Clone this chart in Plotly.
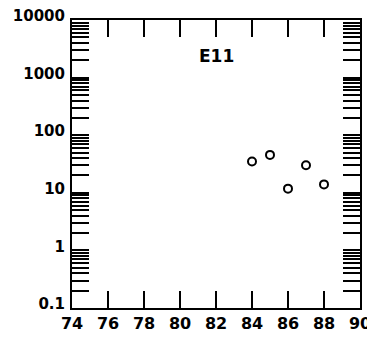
import plotly.graph_objects as go

# Data
years = [84, 85, 86, 87, 88]
values = [35.0, 45.5, 11.8, 30.0, 14.0]
panel_label = "E11"

x_ticks = [74, 76, 78, 80, 82, 84, 86, 88, 90]
x_tick_text = ["74", "76", "78", "80", "82", "84", "86", "88", "90"]
decades = [0.1, 1, 10, 100, 1000, 10000]
decade_text = ["0.1", "1", "10", "100", "1000", "10000"]

# log-axis tick positions (1..9 per decade), labels only on decades
y_tickvals = []
y_ticktext = []
for d, t in zip(decades[:-1], decade_text[:-1]):
    for k in range(1, 10):
        y_tickvals.append(k * d)
        y_ticktext.append(t if k == 1 else "")
y_tickvals.append(decades[-1])
y_ticktext.append(decade_text[-1])

font_fam = "DejaVu Sans, Arial, sans-serif"

fig = go.Figure()
fig.add_trace(go.Scatter(
    x=years, y=values, mode="markers",
    marker=dict(symbol="circle-open", size=8, color="black", line=dict(width=2, color="black")),
    showlegend=False,
))

fig.update_layout(
    width=367, height=332,
    margin=dict(l=64, r=15, t=12, b=32, autoexpand=False),
    plot_bgcolor="white", paper_bgcolor="white",
    font=dict(family=font_fam, size=15, color="black", weight="bold"),
    xaxis=dict(
        range=[74, 90], tickvals=x_ticks, ticktext=x_tick_text,
        ticks="inside", ticklen=17, tickwidth=2, tickcolor="black",
        showline=True, linewidth=2, linecolor="black", mirror="allticks",
        showgrid=False, zeroline=False, automargin=False,
        ticklabeloverflow="allow",
        tickfont=dict(family=font_fam, size=16, color="black", weight="bold"),
    ),
    yaxis=dict(
        type="log", range=[-1, 4], tickvals=y_tickvals, ticktext=y_ticktext,
        ticks="inside", ticklen=17, tickwidth=2, tickcolor="black",
        showline=True, linewidth=2, linecolor="black", mirror="allticks",
        showgrid=False, zeroline=False, ticklabelstandoff=2, ticklabelshift=-4,
        automargin=False, ticklabeloverflow="allow",
        tickfont=dict(family=font_fam, size=15, color="black", weight="bold"),
    ),
    annotations=[dict(
        text=panel_label, xref="paper", yref="paper", x=0.5, y=0.875,
        showarrow=False, xanchor="center", yanchor="middle",
        font=dict(family=font_fam, size=17, color="black", weight="bold"),
    )],
)

fig.write_html("out.html")
